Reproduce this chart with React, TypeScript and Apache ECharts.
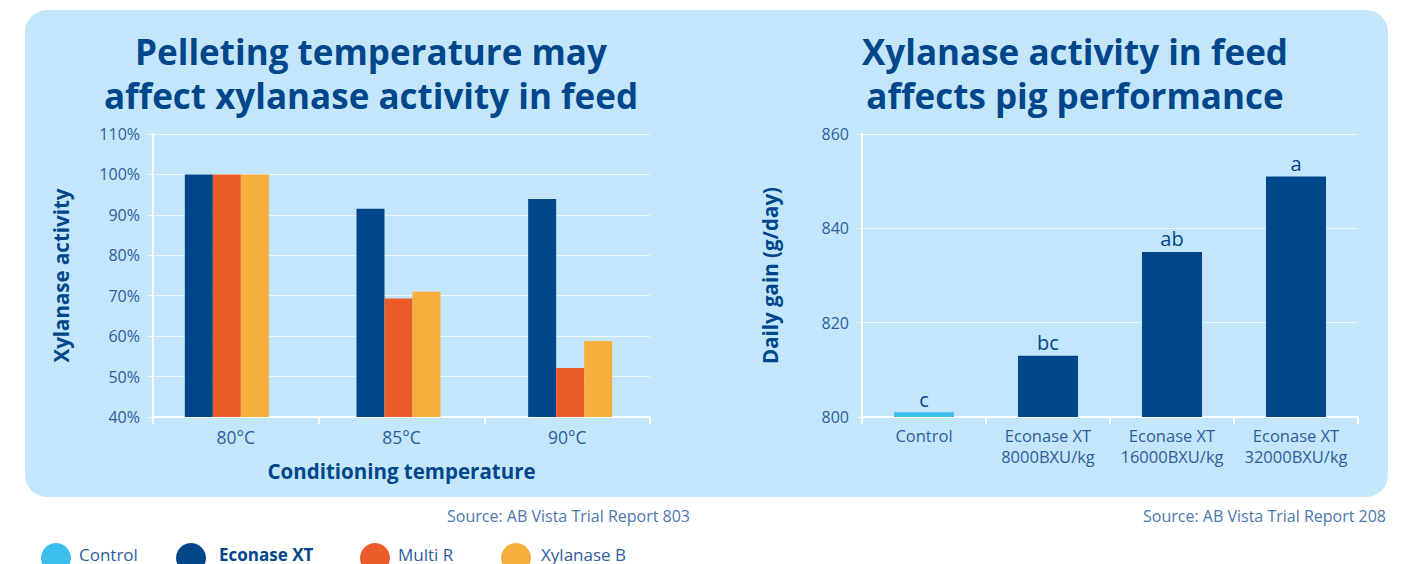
import React, { useEffect, useRef } from "react";
import * as echarts from "echarts";

const leftCategories = ["80°C", "85°C", "90°C"];
const leftEconase = [100, 91.5, 93.9];
const leftMultiR = [100, 69.3, 52.1];
const leftXylanaseB = [100, 71.0, 58.8];
const leftTicks = [40, 110, 10];

const rightCategories = ["Control", "Econase XT\n8000BXU/kg", "Econase XT\n16000BXU/kg", "Econase XT\n32000BXU/kg"];
const rightControl = [801, null, null, null];
const rightEconase = [null, 813, 835, 851];
const significance = ["c", "bc", "ab", "a"];
const rightTicks = [800, 860, 20];

const legendNames = ["Control", "Econase XT", "Multi R", "Xylanase B"];

const NAVY = "#00468b";
const ORANGE = "#eb5c2a";
const YELLOW = "#f8ae3c";
const LIGHT = "#3cbfee";
const PANEL = "#c4e6fa";
const TXT = "#2d5e9c";
const FONT = "Open Sans";

export default function App() {
  const ref = useRef<HTMLDivElement>(null);
  useEffect(() => {
    if (!ref.current) return;
    const chart = echarts.init(ref.current, null, { renderer: "svg" });
    const axisLine = { show: true, lineStyle: { color: "#ffffff", width: 2 } };
    const split = { show: true, lineStyle: { color: "rgba(255,255,255,0.7)", width: 1 } };
    const labelFn = (p: any) => significance[p.dataIndex];
    const nameStyle = { color: NAVY, fontWeight: "bold", fontSize: 20.5, fontFamily: FONT };
    const legendLefts = [36, 171, 355, 496];
    const legendPads = [3, 8, 3, 5];
    const legends = legendNames.map((n, i) => ({
      data: [n],
      left: legendLefts[i],
      top: 538,
      icon: "circle",
      itemWidth: 30,
      itemHeight: 30,
      selectedMode: false,
      formatter: "{t|{name}}",
      textStyle: {
        rich: {
          t: {
            fontFamily: FONT,
            fontSize: 17,
            lineHeight: 18,
            fontWeight: n === "Econase XT" ? "bold" : "normal",
            color: n === "Econase XT" ? NAVY : TXT,
            padding: [0, 0, 8, legendPads[i]],
          },
        },
      },
    }));
    chart.setOption({
      animation: false,
      backgroundColor: "#ffffff",
      textStyle: { fontFamily: FONT },
      graphic: [
        {
          type: "rect",
          z: -10,
          shape: { x: 25, y: 10, width: 1363, height: 487, r: 22 },
          style: { fill: PANEL },
        },
        {
          type: "text",
          x: 690,
          y: 516,
          style: {
            text: "Source: AB Vista Trial Report 803",
            fill: "#4b78ab",
            font: `16px "${FONT}"`,
            align: "right",
            verticalAlign: "middle",
          },
        },
        {
          type: "text",
          x: 1386,
          y: 516,
          style: {
            text: "Source: AB Vista Trial Report 208",
            fill: "#4b78ab",
            font: `16px "${FONT}"`,
            align: "right",
            verticalAlign: "middle",
          },
        },
      ],
      title: [
        {
          text: "Pelleting temperature may\naffect xylanase activity in feed",
          left: 366,
          top: 24,
          textAlign: "center",
          textStyle: { fontFamily: FONT, fontWeight: "bold", fontSize: 35, lineHeight: 44, color: NAVY },
        },
        {
          text: "Xylanase activity in feed\naffects pig performance",
          left: 1070,
          top: 24,
          textAlign: "center",
          textStyle: { fontFamily: FONT, fontWeight: "bold", fontSize: 35, lineHeight: 44, color: NAVY },
        },
      ],
      legend: legends,
      grid: [
        { left: 153, right: 1401 - 650, top: 134, bottom: 564 - 417 },
        { left: 862, right: 1401 - 1358, top: 134, bottom: 564 - 417 },
        { left: 141, right: 1401 - 656, top: 134, bottom: 564 - 417 },
      ],
      xAxis: [
        {
          type: "category",
          gridIndex: 0,
          data: leftCategories,
          axisLine,
          axisTick: { show: true, length: 7, lineStyle: { color: "#ffffff", width: 2 } },
          axisLabel: { color: TXT, fontSize: 17.5, margin: 11, fontFamily: FONT },
          name: "Conditioning temperature",
          nameLocation: "middle",
          nameGap: 43,
          nameTextStyle: nameStyle,
        },
        {
          type: "category",
          gridIndex: 1,
          data: rightCategories,
          axisLine,
          axisTick: { show: true, length: 7, lineStyle: { color: "#ffffff", width: 2 } },
          axisLabel: { color: TXT, fontSize: 16.5, margin: 8, lineHeight: 21, fontFamily: FONT, interval: 0, hideOverlap: false },
        },
        {
          type: "category",
          gridIndex: 2,
          data: leftCategories,
          show: false,
        },
      ],
      yAxis: [
        {
          type: "value",
          gridIndex: 0,
          min: leftTicks[0],
          max: leftTicks[1],
          interval: leftTicks[2],
          axisLine,
          axisTick: { show: true, length: 5, lineStyle: { color: "rgba(255,255,255,0.8)", width: 1 } },
          splitLine: split,
          axisLabel: { color: TXT, fontSize: 16, formatter: "{value}%", margin: 13, fontFamily: FONT },
          name: "Xylanase activity",
          nameLocation: "middle",
          nameGap: 82,
          nameTextStyle: nameStyle,
        },
        {
          type: "value",
          gridIndex: 1,
          min: rightTicks[0],
          max: rightTicks[1],
          interval: rightTicks[2],
          axisLine,
          axisTick: { show: true, length: 5, lineStyle: { color: "rgba(255,255,255,0.8)", width: 1 } },
          splitLine: split,
          axisLabel: { color: TXT, fontSize: 16, margin: 13, fontFamily: FONT },
          name: "Daily gain (g/day)",
          nameLocation: "middle",
          nameGap: 82,
          nameTextStyle: nameStyle,
        },
        {
          type: "value",
          gridIndex: 2,
          min: leftTicks[0],
          max: leftTicks[1],
          interval: leftTicks[2],
          show: false,
          splitLine: { show: false },
        },
      ],
      series: [
        { name: "Econase XT", type: "bar", xAxisIndex: 2, yAxisIndex: 2, data: leftEconase, barWidth: 28, barGap: "0%", itemStyle: { color: NAVY } },
        { name: "Multi R", type: "bar", xAxisIndex: 2, yAxisIndex: 2, data: leftMultiR, barWidth: 28, barGap: "0%", itemStyle: { color: ORANGE } },
        { name: "Xylanase B", type: "bar", xAxisIndex: 2, yAxisIndex: 2, data: leftXylanaseB, barWidth: 28, barGap: "0%", itemStyle: { color: YELLOW } },
        {
          name: "Control",
          type: "bar",
          xAxisIndex: 1,
          yAxisIndex: 1,
          data: rightControl,
          barWidth: 60,
          barGap: "-100%",
          itemStyle: { color: LIGHT },
          label: { show: true, position: "top", distance: 3, formatter: labelFn, color: NAVY, fontSize: 20, fontFamily: FONT },
        },
        {
          name: "Econase XT",
          type: "bar",
          xAxisIndex: 1,
          yAxisIndex: 1,
          data: rightEconase,
          barWidth: 60,
          barGap: "-100%",
          itemStyle: { color: NAVY },
          label: { show: true, position: "top", distance: 3, formatter: labelFn, color: NAVY, fontSize: 20, fontFamily: FONT },
        },
      ],
    });
    return () => chart.dispose();
  }, []);
  return <div ref={ref} style={{ position: "fixed", left: 0, top: 0, width: 1401, height: 564 }} />;
}
